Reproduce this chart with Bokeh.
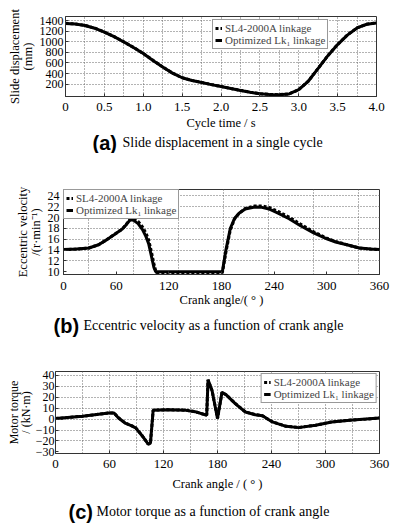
from bokeh.plotting import figure
from bokeh.models import Range1d, FixedTicker, Legend, LegendItem, Label, PrintfTickFormatter
from bokeh.embed import file_html
from bokeh.resources import INLINE

SERIF = "Liberation Serif"
SANS = "Liberation Sans"

# ---------------- data ----------------
# (a) slide displacement over one cycle
time_s = [0, 0.125, 0.25, 0.375, 0.5, 0.625, 0.75, 0.875, 1.0, 1.125, 1.25, 1.375, 1.5,
          1.625, 1.75, 1.875, 2.0, 2.125, 2.25, 2.375, 2.5, 2.625, 2.75, 2.875, 3.0,
          3.125, 3.25, 3.375, 3.5, 3.625, 3.75, 3.875, 4.0]
disp_sl4 = [1350, 1340, 1312, 1260, 1185, 1100, 1000, 895, 780, 650, 525, 410, 322,
            270, 232, 192, 155, 118, 82, 48, 18, 3, 0, 15, 95,
            260, 500, 740, 950, 1130, 1265, 1335, 1360]
disp_opt = [1348, 1338, 1310, 1258, 1183, 1098, 998, 893, 778, 648, 523, 408, 320,
            268, 230, 190, 153, 116, 80, 46, 16, 2, 0, 14, 93,
            258, 498, 738, 948, 1128, 1263, 1333, 1358]
time_ticks = [0, 0.5, 1.0, 1.5, 2.0, 2.5, 3.0, 3.5, 4.0]
disp_ticks = [200, 400, 600, 800, 1000, 1200, 1400]

# (b) eccentric velocity vs crank angle
angle_b = [0, 15, 29, 40, 48, 58, 67, 72, 76, 80, 85, 90, 94, 97, 100, 103, 105, 106,
           120, 140, 160, 181, 185, 190, 195, 200, 207, 218, 226, 234, 245, 257, 270,
           285, 300, 310, 325, 337, 350, 360]
vel_sl4 = [14.1, 14.2, 14.4, 15.0, 15.8, 16.9, 17.9, 18.9, 19.7, 19.7, 19.3, 18.3, 17.1, 15.9, 13.8, 11.5, 10.2, 9.85,
           9.85, 9.85, 9.85, 9.85, 13.6, 17.7, 19.8, 20.8, 21.7, 22.15, 22.15, 21.9, 21.1, 20.1, 18.8,
           17.4, 16.2, 15.6, 14.9, 14.4, 14.2, 14.1]
vel_opt = [14.1, 14.2, 14.4, 15.0, 15.8, 16.9, 17.9, 18.8, 19.6, 19.5, 18.9, 17.8, 16.5, 15.2, 13.0, 10.8, 10.0, 10.0,
           10.0, 10.0, 10.0, 10.0, 14.0, 18.0, 19.9, 20.8, 21.6, 21.95, 21.9, 21.6, 20.8, 19.8, 18.5,
           17.2, 16.1, 15.5, 14.9, 14.4, 14.2, 14.1]
angle_ticks = [0, 60, 120, 180, 240, 300, 360]
vel_ticks = [10, 12, 14, 16, 18, 20, 22, 24]

# (c) motor torque vs crank angle
angle_c = [0, 30, 59, 65, 70, 78, 84, 89, 96, 103, 105.5, 108.5, 125, 145, 155, 168,
           169.5, 174, 180, 185, 190, 200, 211, 222, 230, 241, 256, 270, 289, 307, 330, 345, 360]
torque_sl4 = [0.5, 2.6, 5.6, 5.6, 1.2, -3.8, -5.8, -7.8, -14.8, -23.0, -22.0, 8.2, 8.6, 8.1, 6.9, 3.6,
              36.0, 26.0, 0.6, 24.6, 22.0, 14.1, 6.6, 4.1, 3.0, -2.5, -6.5, -7.7, -5.6, -2.5, -0.8, 0.0, 1.0]
torque_opt = [0.5, 2.6, 5.5, 5.5, 1.0, -4.0, -6.0, -8.0, -15.0, -23.0, -22.0, 8.0, 8.5, 8.0, 6.8, 3.5,
              36.0, 26.0, 0.5, 24.5, 22.0, 14.0, 6.5, 4.0, 3.0, -2.6, -6.6, -7.8, -5.7, -2.6, -0.8, 0.0, 1.0]
torque_ticks = [-30, -20, -10, 0, 10, 20, 30, 40]

label_sl4 = "SL4-2000A linkage"
label_opt = "Optimized Lk\u2081 linkage"

W = 398


def base_fig(h, bl, br, bt, bb, xr, yr):
    p = figure(width=W, height=h, x_range=xr, y_range=yr,
               output_backend="svg", toolbar_location=None,
               min_border_left=bl, min_border_right=br, min_border_top=bt, min_border_bottom=bb,
               background_fill_color="white", border_fill_color="white")
    p.outline_line_color = "#333333"
    p.outline_line_width = 1
    for ax in (p.xaxis[0], p.yaxis[0]):
        ax.axis_line_color = "#333333"
        ax.major_tick_in = 3
        ax.major_tick_out = 0
        ax.major_tick_line_color = "#333333"
        ax.minor_tick_line_color = None
        ax.major_label_text_font = SERIF
        ax.major_label_text_color = "black"
        ax.axis_label_text_font = SERIF
        ax.axis_label_text_font_size = "12.5px"
        ax.axis_label_text_font_style = "normal"
        ax.axis_label_text_color = "black"
        ax.axis_label_text_line_height = 0.9
    p.xaxis.major_label_text_font_size = "13px"
    p.yaxis.major_label_text_font_size = "12px"
    for g in (p.xgrid[0], p.ygrid[0]):
        g.grid_line_color = "#666666"
        g.grid_line_dash = "1 2"
        g.grid_line_width = 1
    return p


def add_lines(p, x, y1, y2):
    r2 = p.line(x, y2, line_color="black", line_width=3)
    r1 = p.line(x, y1, line_color="black", line_width=3, line_dash="3 2")
    return r1, r2


def add_legend(p, r1, r2, location, margin):
    leg = Legend(items=[LegendItem(label=label_sl4, renderers=[r1]),
                        LegendItem(label=label_opt, renderers=[r2])],
                 location=location, margin=margin, padding=2, spacing=0,
                 label_height=10, glyph_height=10, glyph_width=7, label_standoff=3,
                 label_text_font=SERIF, label_text_font_size="11px",
                 border_line_color="#333333", border_line_width=1,
                 background_fill_color="white", background_fill_alpha=1)
    p.add_layout(leg)


def caption_fig(h, letter, text, xl, xt, y):
    p = figure(width=W, height=h, x_range=Range1d(0, W), y_range=Range1d(0, h),
               output_backend="svg", toolbar_location=None, min_border=0,
               min_border_left=0, min_border_right=0, min_border_top=0, min_border_bottom=0,
               x_axis_location=None, y_axis_location=None,
               background_fill_color="white", border_fill_color="white")
    p.outline_line_color = None
    p.grid.visible = False
    p.add_layout(Label(x=xl, y=y, text=letter, text_font=SANS, text_font_style="bold",
                       text_font_size="20px", text_baseline="middle", text_color="black"))
    p.add_layout(Label(x=xt, y=y, text=text, text_font=SERIF, text_font_size="14px",
                       text_baseline="middle", text_color="black"))
    return p


# ---------------- panel (a) ----------------
pa = base_fig(133, 65, 22, 16, 37, Range1d(0, 4.0), Range1d(-35, 1480))
pa.xaxis.ticker = FixedTicker(ticks=time_ticks)
pa.xaxis.formatter = PrintfTickFormatter(format="%.1f")
pa.xaxis.major_label_overrides = {0: "0"}
pa.yaxis.ticker = FixedTicker(ticks=disp_ticks)
pa.xgrid.ticker = FixedTicker(ticks=[0.25 * i for i in range(1, 16)])
pa.ygrid.ticker = FixedTicker(ticks=disp_ticks)
pa.xaxis.axis_label = "Cycle time / s"
pa.yaxis.axis_label = "Slide displacement\n(mm)"
pa.xaxis.major_label_standoff = 6
pa.xaxis.axis_label_standoff = 2
pa.yaxis.major_label_standoff = 2
pa.yaxis.axis_label_standoff = 2
ra1, ra2 = add_lines(pa, time_s, disp_sl4, disp_opt)
add_legend(pa, ra1, ra2, (147, 47), 0)
ca = caption_fig(20, "(a)", "Slide displacement in a single cycle", 92, 122, 11)

# ---------------- panel (b) ----------------
pb = base_fig(157, 63, 19, 36, 36, Range1d(0, 360), Range1d(9.5, 25.2))
pb.xaxis.ticker = FixedTicker(ticks=angle_ticks)
pb.yaxis.ticker = FixedTicker(ticks=vel_ticks)
pb.xgrid.ticker = FixedTicker(ticks=[28.5, 79.7, 131, 182, 233, 285, 336])
pb.ygrid.ticker = FixedTicker(ticks=vel_ticks[1:])
pb.xaxis.axis_label = "Crank angle/( \u00b0 )"
pb.yaxis.axis_label = "Eccentric velocity\n/(r\u00b7min\u207b\u00b9)"
pb.xaxis.major_label_standoff = 7
pb.xaxis.axis_label_standoff = 0
pb.yaxis.major_label_standoff = 4
pb.yaxis.axis_label_standoff = 2
rb1, rb2 = add_lines(pb, angle_b, vel_sl4, vel_opt)
add_legend(pb, rb1, rb2, "top_left", 0)
cb = caption_fig(30, "(b)", "Eccentric velocity as a function of crank angle", 53, 83, 15)

# ---------------- panel (c) ----------------
pc = base_fig(154, 55, 19, 31, 41, Range1d(0, 360), Range1d(-31.5, 43.6))
pc.xaxis.ticker = FixedTicker(ticks=angle_ticks)
pc.yaxis.ticker = FixedTicker(ticks=torque_ticks)
pc.xgrid.ticker = FixedTicker(ticks=[30 * i for i in range(1, 12)])
pc.ygrid.ticker = FixedTicker(ticks=torque_ticks[1:])
pc.xaxis.axis_label = "Crank angle / ( \u00b0 )"
pc.yaxis.axis_label = "Motor torque\n/ (kN\u00b7m)"
pc.yaxis.axis_label_text_font_size = "12px"
pc.yaxis.axis_label_text_line_height = 0.85
pc.xaxis.major_label_standoff = 6
pc.xaxis.axis_label_standoff = 6
pc.yaxis.major_label_standoff = 1
pc.yaxis.axis_label_standoff = 0
rc1, rc2 = add_lines(pc, angle_c, torque_sl4, torque_opt)
add_legend(pc, rc1, rc2, "top_right", 2)
cc = caption_fig(34, "(c)", "Motor torque as a function of crank angle", 68, 96, 17)

# separate roots, stacked top to bottom (no cross-plot frame alignment)
open("out.html", "w").write(file_html([pa, ca, pb, cb, pc, cc], INLINE))
